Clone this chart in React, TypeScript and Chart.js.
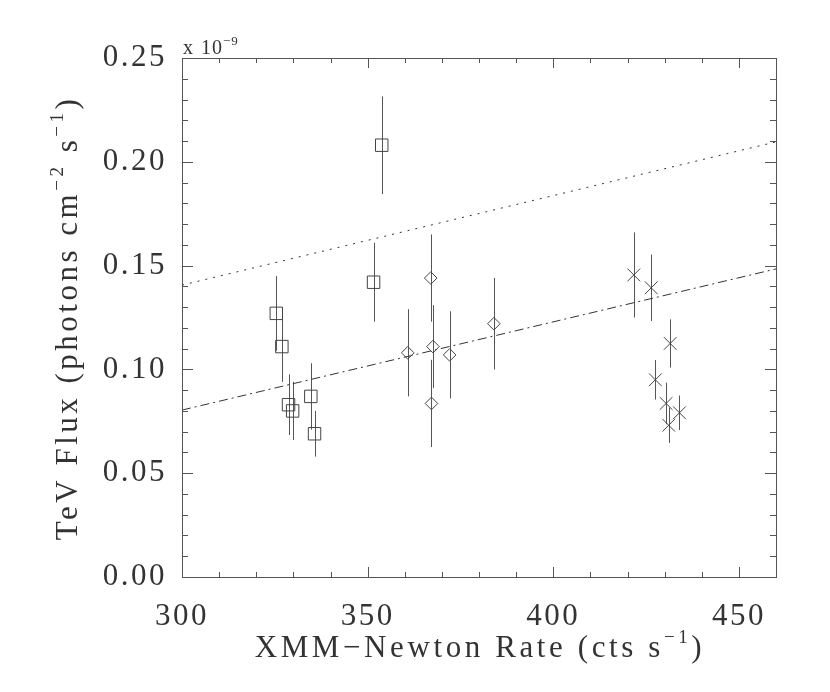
import React, { useEffect, useRef } from 'react';
import Chart from 'chart.js/auto';

// squares
const squareX = [325.4, 326.9, 328.7, 329.8, 334.7, 335.7, 351.6, 353.8];
const squareY = [0.127, 0.111, 0.083, 0.080, 0.087, 0.069, 0.142, 0.208];
const squareErr = [0.018, 0.017, 0.0146, 0.014, 0.016, 0.011, 0.019, 0.0235];

// diamonds
const diamondX = [360.8, 367.0, 367.6, 367.2, 372.1, 384.0];
const diamondY = [0.108, 0.144, 0.111, 0.0836, 0.107, 0.122];
const diamondErr = [0.021, 0.021, 0.020, 0.021, 0.021, 0.022];

// crosses
const crossX = [421.7, 426.4, 431.5, 427.5, 430.4, 431.1, 434.0];
const crossY = [0.1455, 0.1393, 0.1125, 0.095, 0.0836, 0.0731, 0.0791];
const crossErr = [0.0205, 0.016, 0.0116, 0.0095, 0.010, 0.0085, 0.0083];

// fit lines (endpoints at x = 300 and 460)
const lineX = [300, 460];
const dottedY = [0.1406, 0.2096];
const dashDotY = [0.0804, 0.1484];

const xTicks = [300, 350, 400, 450];
const yTicks = [0, 0.05, 0.1, 0.15, 0.2, 0.25];

// axis titles: [text, superscript?]
const xTitle: [string, boolean][] = [['XMM−Newton Rate (cts s', false], ['−1', true], [')', false]];
const yTitle: [string, boolean][] = [
  ['TeV Flux (photons cm', false], ['−2', true], [' s', false], ['−1', true], [')', false],
];

const INK = '#333';
const FONT = 'Liberation Serif';
const SPACING = '2.5px';

const pts = (xs: number[], ys: number[]) => xs.map((x, i) => ({ x, y: ys[i] }));

// draws text with superscripts, centred on x = 0 at baseline y = 0
const drawRich = (ctx: CanvasRenderingContext2D, parts: [string, boolean][], size: number) => {
  const fontFor = (sup: boolean) => `${sup ? Math.round(size * 0.6) : size}px "${FONT}"`;
  const widths = parts.map(([t, sup]) => { ctx.font = fontFor(sup); return ctx.measureText(t).width; });
  let x = -widths.reduce((s, w) => s + w, 0) / 2;
  parts.forEach(([t, sup], i) => {
    ctx.font = fontFor(sup);
    ctx.fillText(t, x, sup ? -size * 0.45 : 0);
    x += widths[i];
  });
};

const spacing = {
  id: 'spacing',
  beforeUpdate(chart: any) { chart.ctx.letterSpacing = SPACING; },
  beforeDraw(chart: any) { chart.ctx.letterSpacing = SPACING; },
};

const errorBars = {
  id: 'errorBars',
  beforeDatasetsDraw(chart: any) {
    const { ctx, scales } = chart;
    ctx.save();
    ctx.strokeStyle = '#555';
    ctx.lineWidth = 1;
    chart.data.datasets.forEach((ds: any) => {
      if (!ds.errors) return;
      ds.data.forEach((p: any, i: number) => {
        const px = Math.round(scales.x.getPixelForValue(p.x)) + 0.5;
        ctx.beginPath();
        ctx.moveTo(px, scales.y.getPixelForValue(p.y + ds.errors[i]));
        ctx.lineTo(px, scales.y.getPixelForValue(p.y - ds.errors[i]));
        ctx.stroke();
      });
    });
    ctx.restore();
  },
};

const frame = {
  id: 'frame',
  afterDraw(chart: any) {
    const { ctx, chartArea: a, scales } = chart;
    ctx.save();
    ctx.strokeStyle = '#555';
    ctx.lineWidth = 1;
    ctx.strokeRect(a.left + 0.5, a.top + 0.5, a.right - a.left, a.bottom - a.top);
    ctx.beginPath();
    for (let v = 300; v <= 460; v += 10) {
      const px = Math.round(scales.x.getPixelForValue(v)) + 0.5;
      const len = v % 50 === 0 ? 10 : 5;
      ctx.moveTo(px, a.bottom);
      ctx.lineTo(px, a.bottom - len);
      ctx.moveTo(px, a.top);
      ctx.lineTo(px, a.top + len);
    }
    for (let k = 0; k <= 25; k++) {
      const py = Math.round(scales.y.getPixelForValue(k / 100)) + 0.5;
      const len = k % 5 === 0 ? 11 : 6;
      ctx.moveTo(a.left, py);
      ctx.lineTo(a.left + len, py);
      ctx.moveTo(a.right, py);
      ctx.lineTo(a.right - len, py);
    }
    ctx.stroke();

    ctx.fillStyle = INK;
    ctx.textBaseline = 'alphabetic';
    ctx.textAlign = 'left';
    // exponent note above the y axis
    ctx.letterSpacing = '1px';
    ctx.font = `20px "${FONT}"`;
    ctx.fillText('x', a.left + 1, a.top - 4);
    ctx.fillText('10', a.left + 19, a.top - 4);
    ctx.font = `13px "${FONT}"`;
    ctx.fillText('−9', a.left + 41, a.top - 13);

    // axis titles
    ctx.letterSpacing = '3.6px';
    ctx.save();
    ctx.translate((a.left + a.right) / 2 + 1, 657);
    drawRich(ctx, xTitle, 31);
    ctx.restore();

    ctx.letterSpacing = '3.5px';
    ctx.translate(77, 318);
    ctx.rotate(-Math.PI / 2);
    drawRich(ctx, yTitle, 31);
    ctx.restore();
  },
};

const App: React.FC = () => {
  const canvasRef = useRef<HTMLCanvasElement | null>(null);
  const chartRef = useRef<Chart | null>(null);

  useEffect(() => {
    const ctx = canvasRef.current?.getContext('2d');
    if (!ctx) return;
    if (chartRef.current) chartRef.current.destroy();

    const marker = { showLine: false, borderColor: '#444', backgroundColor: 'transparent', borderWidth: 1 };

    chartRef.current = new Chart(ctx, {
      type: 'scatter',
      data: {
        datasets: [
          { ...marker, data: pts(squareX, squareY), errors: squareErr, pointStyle: 'rect', pointRadius: 8.8 },
          { ...marker, data: pts(diamondX, diamondY), errors: diamondErr, pointStyle: 'rectRot', pointRadius: 6.3 },
          { ...marker, data: pts(crossX, crossY), errors: crossErr, pointStyle: 'crossRot', pointRadius: 9 },
          {
            type: 'line', data: pts(lineX, dottedY), borderColor: INK, borderWidth: 1,
            borderDash: [2, 6], pointRadius: 0, showLine: true,
          },
          {
            type: 'line', data: pts(lineX, dashDotY), borderColor: INK, borderWidth: 1,
            borderDash: [9, 4, 2, 4], pointRadius: 0, showLine: true,
          },
        ] as any,
      },
      options: {
        animation: false,
        responsive: false,
        layout: { padding: { left: 0, right: 54, top: 58, bottom: 0 } },
        plugins: { legend: { display: false }, tooltip: { enabled: false } },
        scales: {
          x: {
            type: 'linear',
            min: 300,
            max: 460,
            afterBuildTicks: (s: any) => { s.ticks = xTicks.map(value => ({ value })); },
            afterFit: (s: any) => { s.height = 115; },
            ticks: { padding: 13, color: INK, font: { family: FONT, size: 31 }, maxRotation: 0 },
            grid: { display: false },
            border: { display: false },
          },
          y: {
            type: 'linear',
            min: 0,
            max: 0.25,
            afterBuildTicks: (s: any) => { s.ticks = yTicks.map(value => ({ value })); },
            afterFit: (s: any) => { s.width = 182; },
            ticks: {
              padding: 7,
              color: INK,
              font: { family: FONT, size: 31 },
              callback: (v: any) => Number(v).toFixed(2),
            },
            grid: { display: false },
            border: { display: false },
          },
        },
      } as any,
      plugins: [spacing, errorBars, frame],
    });

    return () => {
      if (chartRef.current) {
        chartRef.current.destroy();
        chartRef.current = null;
      }
    };
  }, []);

  return (
    <div style={{ position: 'absolute', left: 0, top: 0, width: 830, height: 692, background: '#fff' }}>
      <canvas ref={canvasRef} width={830} height={692} />
    </div>
  );
};

export default App;
